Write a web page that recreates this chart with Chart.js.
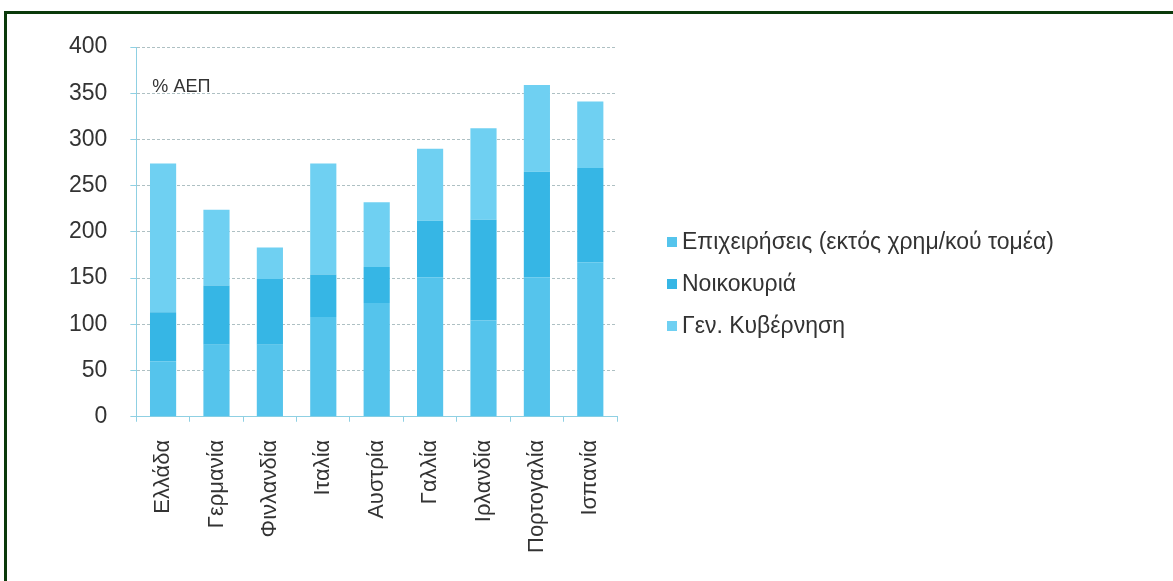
<!DOCTYPE html>
<html lang="el">
<head>
<meta charset="utf-8">
<title>Χρέος ανά τομέα</title>
<script src="https://cdn.jsdelivr.net/npm/chart.js@4.4.1/dist/chart.umd.min.js"></script>
<style>
  html, body {
    margin: 0;
    padding: 0;
    background: #ffffff;
    overflow: hidden;
  }
  .frame {
    position: absolute;
    left: 4px;
    top: 11px;
    width: 1200px;
    height: 600px;
    border-left: 3px solid #0b3a0b;
    border-top: 3px solid #0b3a0b;
  }
  .chart-box {
    position: absolute;
    left: 0;
    top: 0;
    width: 1173px;
    height: 581px;
  }
  #legend {
    position: absolute;
    left: 667px;
    top: 228px;
    margin: 0;
    padding: 0;
    list-style: none;
    font-family: 'Liberation Sans', Arial, sans-serif;
    font-size: 23px;
    line-height: 26px;
    color: #333333;
  }
  #legend li {
    height: 42px;
    display: flex;
    align-items: flex-start;
    white-space: nowrap;
  }
  #legend .swatch {
    width: 10px;
    height: 10px;
    margin: 9px 5px 0 0;
    flex: none;
  }
</style>
</head>
<body>
<div class="frame"></div>
<div class="chart-box">
  <canvas id="debt-chart" width="1173" height="581"></canvas>
</div>
<ul id="legend"></ul>
<script>
const countries = ["Ελλάδα", "Γερμανία", "Φινλανδία", "Ιταλία", "Αυστρία", "Γαλλία", "Ιρλανδία", "Πορτογαλία", "Ισπανία"];

// % of GDP per sector, stacked bottom to top
const business = [60, 78, 78, 108, 123, 151, 104, 151, 167];
const households = [53, 64, 71, 46, 39, 61, 109, 114, 102];
const government = [161, 82, 34, 120, 70, 78, 99, 94, 72];

const seriesNames = ["Επιχειρήσεις (εκτός χρημ/κού τομέα)", "Νοικοκυριά", "Γεν. Κυβέρνηση"];
const yTicks = [0, 50, 100, 150, 200, 250, 300, 350, 400];
const unitLabel = "% ΑΕΠ";

const fontFamily = "'Liberation Sans', Arial, sans-serif";
const axisBlue = "#8fd0e3";

// writes the unit caption in the upper left of the plot
const unitCaption = {
  id: "unitCaption",
  afterDraw(chart) {
    const { ctx, chartArea } = chart;
    ctx.save();
    ctx.font = `18px ${fontFamily}`;
    ctx.fillStyle = "#333333";
    ctx.textBaseline = "middle";
    ctx.fillText(unitLabel, chartArea.left + 16, chartArea.top + 40);
    ctx.restore();
  },
};

function renderLegend(chart) {
  const list = document.getElementById("legend");
  list.innerHTML = "";
  const items = chart.options.plugins.legend.labels.generateLabels(chart);
  items.forEach((item) => {
    const li = document.createElement("li");
    const box = document.createElement("span");
    box.className = "swatch";
    box.style.background = item.fillStyle;
    const text = document.createElement("span");
    text.textContent = item.text;
    li.appendChild(box);
    li.appendChild(text);
    list.appendChild(li);
  });
}

function renderDebtChart() {
  const ctx = document.getElementById("debt-chart").getContext("2d");
  const chart = new Chart(ctx, {
    type: "bar",
    data: {
      labels: countries,
      datasets: [
        { label: seriesNames[0], data: business, backgroundColor: "#55c4ec" },
        { label: seriesNames[1], data: households, backgroundColor: "#36b6e5" },
        { label: seriesNames[2], data: government, backgroundColor: "#6fd0f2" },
      ],
    },
    options: {
      responsive: false,
      animation: false,
      layout: {
        padding: { left: 46, right: 556, top: 47, bottom: 10 },
      },
      datasets: {
        bar: { categoryPercentage: 1, barPercentage: 0.49, borderWidth: 0 },
      },
      plugins: {
        tooltip: { enabled: false },
        legend: { display: false },
      },
      scales: {
        x: {
          stacked: true,
          grid: { drawOnChartArea: false, tickLength: 5, color: axisBlue },
          border: { color: axisBlue },
          ticks: {
            color: "#333333",
            font: { family: fontFamily, size: 22 },
            minRotation: 90,
            maxRotation: 90,
            padding: 18,
          },
        },
        y: {
          stacked: true,
          min: 0,
          max: 400,
          afterBuildTicks: (scale) => {
            scale.ticks = yTicks.map((v) => ({ value: v }));
          },
          grid: { color: "rgba(120,150,155,0.6)", tickLength: 6, tickColor: axisBlue, tickBorderDash: [] },
          border: { color: axisBlue, dash: [3, 2] },
          ticks: {
            color: "#333333",
            font: { family: fontFamily, size: 23 },
            padding: 23,
          },
        },
      },
    },
    plugins: [unitCaption],
  });
  renderLegend(chart);
}

renderDebtChart();
</script>
</body>
</html>
